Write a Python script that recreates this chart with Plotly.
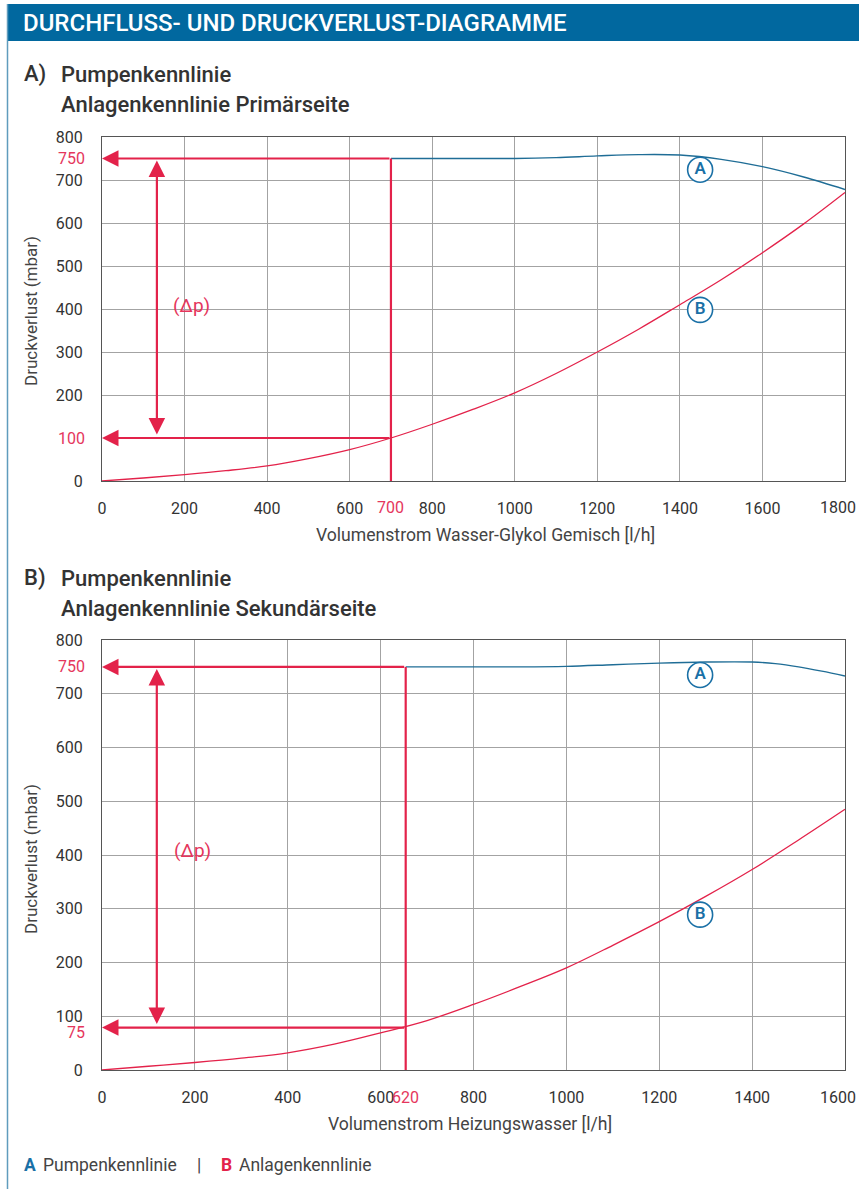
import plotly.graph_objects as go

# ---------------- data ----------------
# Chart A (Primärseite, Wasser-Glykol)
flow_A_pump = [700, 800, 900, 1000, 1100, 1200, 1300, 1400, 1500, 1600, 1700, 1800]
dp_A_pump = [750, 750, 750, 750, 752, 756, 759, 758, 748, 731, 707, 678]
flow_A_sys = [0, 100, 200, 300, 400, 500, 600, 700, 800, 900, 1000, 1100, 1200,
              1300, 1400, 1500, 1600, 1700, 1800]
dp_A_sys = [0, 7, 15, 24, 35, 52, 73, 100, 132, 167, 205, 250, 300,
            353, 410, 468, 531, 598, 671]
op_A_flow = 700
op_A_flow_label = "700"
op_A_dp = 100
op_A_dp_label = "100"
pump_A_dp = 750
dp_arrow_A_x = 133
dp_label_A = (218, 408)
circle_A_pos = [(1449, 724), (1449, 398)]

# Chart B (Sekundärseite, Heizungswasser)
flow_B_pump = [654, 800, 900, 1000, 1100, 1200, 1300, 1400, 1450, 1500, 1550, 1600]
dp_B_pump = [750, 750, 750, 751, 754, 757, 759, 759, 756, 750, 742, 733]
flow_B_sys = [0, 100, 200, 300, 400, 500, 600, 700, 800, 900, 1000, 1100, 1200,
              1300, 1400, 1500, 1600]
dp_B_sys = [0, 7, 14, 22, 32, 48, 69, 92, 122, 155, 190, 232, 276,
            323, 373, 428, 485]
op_B_flow = 654
op_B_flow_label = "620"
op_B_dp = 79
op_B_dp_label = "75"
op_B_dp_label_pos = 69
pump_B_dp = 750
dp_arrow_B_x = 118
dp_label_B = (194, 409)
circle_B_pos = [(1288, 735), (1288, 289)]

yticks_A = [0, 200, 300, 400, 500, 600, 700, 800]
yticks_B = [0, 100, 200, 300, 400, 500, 600, 700, 800]
xticks_A = [0, 200, 400, 600, 800, 1000, 1200, 1400, 1600]
xticks_B = [0, 200, 400, 600, 800, 1000, 1200, 1400]
xmax_A = 1800   # last tick label, drawn flush with the right edge
xmax_B = 1600

# ---------------- style ----------------
W, H = 859, 1189
RED = "#e3224a"
RED_TXT = "#e5365c"
BLUE_LINE = "#1f6d96"
BLUE = "#1a70a6"
HEADER = "#01689f"
GRID = "#a3a3a3"
TXT = "#333333"
FONT = "Roboto"


def px(x):
    return x / W


def py(y):
    return 1 - y / H


fig = go.Figure()

# curves chart A
fig.add_trace(go.Scatter(x=flow_A_sys, y=dp_A_sys, mode="lines", line=dict(color=RED, width=1.3, shape="spline"),
                         xaxis="x", yaxis="y", hoverinfo="skip"))
fig.add_trace(go.Scatter(x=flow_A_pump, y=dp_A_pump, mode="lines", line=dict(color=BLUE_LINE, width=1.4, shape="spline"),
                         xaxis="x", yaxis="y", hoverinfo="skip"))
fig.add_trace(go.Scatter(x=[op_A_flow, op_A_flow], y=[pump_A_dp, 0], mode="lines", line=dict(color=RED, width=2.2),
                         xaxis="x", yaxis="y", hoverinfo="skip"))
# curves chart B
fig.add_trace(go.Scatter(x=flow_B_sys, y=dp_B_sys, mode="lines", line=dict(color=RED, width=1.3, shape="spline"),
                         xaxis="x2", yaxis="y2", hoverinfo="skip"))
fig.add_trace(go.Scatter(x=flow_B_pump, y=dp_B_pump, mode="lines", line=dict(color=BLUE_LINE, width=1.4, shape="spline"),
                         xaxis="x2", yaxis="y2", hoverinfo="skip"))
fig.add_trace(go.Scatter(x=[op_B_flow, op_B_flow], y=[pump_B_dp, 0], mode="lines", line=dict(color=RED, width=2.2),
                         xaxis="x2", yaxis="y2", hoverinfo="skip"))

# circled letters
for (pos, xa, ya) in [(circle_A_pos, "x", "y"), (circle_B_pos, "x2", "y2")]:
    fig.add_trace(go.Scatter(x=[p[0] for p in pos], y=[p[1] for p in pos], mode="markers+text",
                             text=["A", "B"], textposition="middle center",
                             textfont=dict(family=FONT, size=17, color=BLUE, weight=600),
                             marker=dict(symbol="circle", size=25, color="white", line=dict(color=BLUE, width=1.6)),
                             xaxis=xa, yaxis=ya, hoverinfo="skip"))

ax_common = dict(showgrid=True, gridcolor=GRID, gridwidth=1, zeroline=False, showline=True,
                 linecolor="#555555", linewidth=1.2, mirror=True, ticks="",
                 tickfont=dict(family=FONT, size=16, color=TXT), tickangle=0,
                 ticklabeloverflow="allow", automargin=False, fixedrange=True)

fig.update_layout(
    width=W, height=H, autosize=False, margin=dict(l=0, r=0, t=0, b=0, autoexpand=False),
    paper_bgcolor="white", plot_bgcolor="white", showlegend=False,
    xaxis=dict(domain=[px(102), px(845)], range=[0, xmax_A], tickvals=xticks_A, anchor="y",
               ticklabelstandoff=13, **ax_common),
    yaxis=dict(domain=[py(481), py(137)], range=[0, 800], tickvals=yticks_A, anchor="x",
               ticklabelstandoff=15, **ax_common),
    xaxis2=dict(domain=[px(102), px(845)], range=[0, xmax_B], tickvals=xticks_B, anchor="y2",
                ticklabelstandoff=13, **ax_common),
    yaxis2=dict(domain=[py(1070), py(640)], range=[0, 800], tickvals=yticks_B, anchor="x2",
                ticklabelstandoff=15, **ax_common),
)

ann = []
shapes = []

# header band + left border
shapes.append(dict(type="rect", xref="paper", yref="paper", x0=px(7), x1=1, y0=py(41), y1=py(4),
                   fillcolor=HEADER, line=dict(width=0), layer="below"))
shapes.append(dict(type="line", xref="paper", yref="paper", x0=px(7.5), x1=px(7.5), y0=0, y1=py(4),
                   line=dict(color="#5f9cbd", width=1.5)))
ann.append(dict(text="DURCHFLUSS- UND DRUCKVERLUST-DIAGRAMME", xref="paper", yref="paper",
                x=px(21), y=py(23), xanchor="left", yanchor="middle", showarrow=False,
                font=dict(family=FONT, size=24, color="white", weight=500)))

# section titles
for (lab, l1, l2, y1, y2) in [("A)", "Pumpenkennlinie", "Anlagenkennlinie Primärseite", 74, 104),
                              ("B)", "Pumpenkennlinie", "Anlagenkennlinie Sekundärseite", 578, 608)]:
    for (t, x, y) in [(lab, 22, y1), (l1, 59, y1), (l2, 59, y2)]:
        ann.append(dict(text=t, xref="paper", yref="paper", x=px(x), y=py(y), xanchor="left",
                        yanchor="middle", showarrow=False,
                        font=dict(family=FONT, size=22, color=TXT, weight=500)))

# axis titles
for (t, y) in [("Druckverlust (mbar)", 311), ("Druckverlust (mbar)", 859)]:
    ann.append(dict(text=t, xref="paper", yref="paper", x=px(31), y=py(y), textangle=-90,
                    xanchor="center", yanchor="middle", showarrow=False,
                    font=dict(family=FONT, size=17, color="#444444")))
for (t, x, y) in [("Volumenstrom Wasser-Glykol Gemisch [l/h]", 485, 535),
                  ("Volumenstrom Heizungswasser [l/h]", 470, 1124)]:
    ann.append(dict(text=t, xref="paper", yref="paper", x=px(x), y=py(y),
                    xanchor="center", yanchor="middle", showarrow=False,
                    font=dict(family=FONT, size=17.6, color="#444444")))

# last x tick labels, kept inside the page
for (t, y) in [(str(xmax_A), 508), (str(xmax_B), 1097)]:
    ann.append(dict(text=t, xref="paper", yref="paper", x=px(858), y=py(y), xanchor="right",
                    yanchor="middle", showarrow=False, font=dict(family=FONT, size=16, color=TXT)))

# red operating-point arrows and labels
for (xa, ya, fl, fl_lab, dpv, dp_lab, dp_lab_pos, pump, dpx, dplab, xtick_y) in [
        ("x", "y", op_A_flow, op_A_flow_label, op_A_dp, op_A_dp_label, op_A_dp, pump_A_dp, dp_arrow_A_x, dp_label_A, 508),
        ("x2", "y2", op_B_flow, op_B_flow_label, op_B_dp, op_B_dp_label, op_B_dp_label_pos, pump_B_dp, dp_arrow_B_x, dp_label_B, 1097)]:
    for yv in (pump, dpv):
        ann.append(dict(x=0, y=yv, ax=fl, ay=yv, xref=xa, yref=ya, axref=xa, ayref=ya, text="",
                        showarrow=True, arrowhead=2, arrowsize=1.5, arrowwidth=2.2, arrowcolor=RED,
                        standoff=0))
    ann.append(dict(x=dpx, y=pump, ax=dpx, ay=dpv, xref=xa, yref=ya, axref=xa, ayref=ya, text="",
                    showarrow=True, arrowhead=2, arrowside="end+start", arrowsize=1.5, arrowwidth=2.2,
                    arrowcolor=RED, standoff=2, startstandoff=2))
    ann.append(dict(text="(Δp)", x=dplab[0], y=dplab[1], xref=xa, yref=ya, showarrow=False,
                    font=dict(family=FONT, size=19, color=RED_TXT)))
    for (t, yv) in [(str(pump), pump), (dp_lab, dp_lab_pos)]:
        ann.append(dict(text=t, xref="paper", yref=ya, x=px(87), y=yv, xanchor="right", yanchor="middle",
                        showarrow=False, font=dict(family=FONT, size=16, color=RED_TXT)))
    ann.append(dict(text=fl_lab, xref=xa, yref="paper", x=fl, y=py(xtick_y), xanchor="center",
                    yanchor="middle", showarrow=False, font=dict(family=FONT, size=16, color=RED_TXT)))

# footer legend
for (t, x, col, wt) in [("A", 22, BLUE, 700), ("Pumpenkennlinie", 41, "#444444", 400),
                        ("|", 195, "#444444", 400), ("B", 219, RED, 700),
                        ("Anlagenkennlinie", 237, "#444444", 400)]:
    ann.append(dict(text=t, xref="paper", yref="paper", x=px(x), y=py(1165), xanchor="left",
                    yanchor="middle", showarrow=False,
                    font=dict(family=FONT, size=17.5, color=col, weight=wt)))

fig.update_layout(annotations=ann, shapes=shapes)
post = "document.body.style.margin='0px';document.body.style.overflow='hidden';"
fig.write_html("out.html", config={"displayModeBar": False}, post_script=post)
